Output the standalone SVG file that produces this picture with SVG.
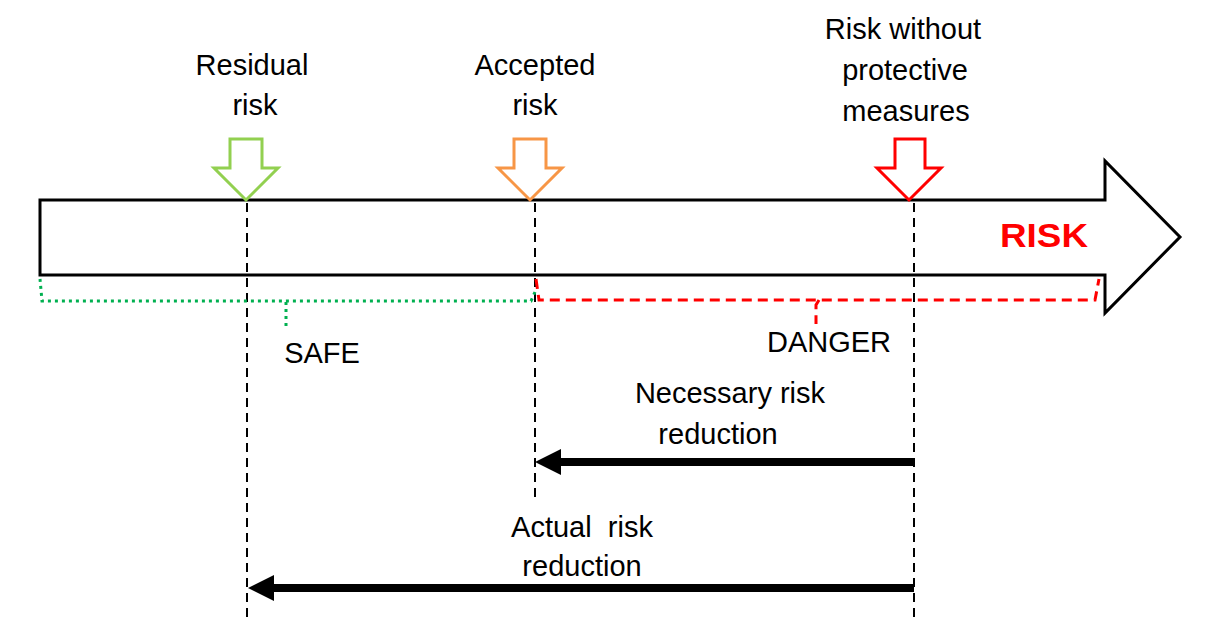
<svg xmlns="http://www.w3.org/2000/svg" width="1207" height="640" viewBox="0 0 1207 640">
<defs>
<style>
.t{font-family:"Liberation Sans",Arial,sans-serif;font-size:29px;fill:#000;text-anchor:middle}
.risk{font-family:"Liberation Sans",Arial,sans-serif;font-size:34px;font-weight:bold;fill:#FF0000}
.vd{fill:none;stroke:#000;stroke-width:2;stroke-dasharray:9 6}
.ind{fill:#fff;stroke-width:3;stroke-linejoin:miter}
.bar{fill:none;stroke:#000;stroke-width:8}
</style>
<marker id="ah" viewBox="0 0 26 26" refX="0" refY="13" markerWidth="26" markerHeight="26" markerUnits="userSpaceOnUse" orient="auto-start-reverse">
<path d="M0,0 L26,13 L0,26 Z" fill="#000"/>
</marker>
</defs>
<rect width="1207" height="640" fill="#fff"/>

<g id="risk-axis">
<path d="M40,200 L1105,200 L1105,161 L1180,237 L1105,313 L1105,275 L40,275 Z" fill="#fff" stroke="#000" stroke-width="3"/>
<text class="risk" x="1044" y="247" text-anchor="middle" textLength="88" lengthAdjust="spacingAndGlyphs">RISK</text>
</g>

<g id="connectors">
<path class="vd" d="M247,203 V622"/>
<path class="vd" d="M535,203 V500"/>
<path class="vd" d="M914,203 V622"/>
<path class="bar" d="M914,462 H561" marker-end="url(#ah)"/>
<path class="bar" d="M914,588 H274" marker-end="url(#ah)"/>
</g>

<g id="residual-risk">
<path class="ind" stroke="#92D050" d="M230,139 H262 V168 H278 L246,200 L214,168 H230 Z"/>
<text class="t" x="252" y="75">Residual</text>
<text class="t" x="255" y="115">risk</text>
</g>

<g id="accepted-risk">
<path class="ind" stroke="#F79646" d="M514,139 H546 V168 H562 L530,200 L498,168 H514 Z"/>
<text class="t" x="535" y="75">Accepted</text>
<text class="t" x="535" y="115">risk</text>
</g>

<g id="risk-without">
<path class="ind" stroke="#FF0000" d="M895,139 H925 V168 H941 L909,200 L877,168 H895 Z"/>
<text class="t" x="903" y="39">Risk without</text>
<text class="t" x="905" y="80">protective</text>
<text class="t" x="906" y="121">measures</text>
</g>

<g id="safe">
<path d="M40,279 L42,301 L531,301 L535,292 M286,302 V329" fill="none" stroke="#00B050" stroke-width="3" stroke-dasharray="3 4"/>
<text class="t" x="322" y="363">SAFE</text>
</g>

<g id="danger">
<path d="M536,279 L539,300 L1095,300 L1099,279 M819,300 L816,305 V324" fill="none" stroke="#FF0000" stroke-width="3" stroke-dasharray="10 6"/>
<text class="t" x="829" y="352">DANGER</text>
</g>

<g id="necessary">
<text class="t" x="730" y="403">Necessary risk</text>
<text class="t" x="718" y="444">reduction</text>
</g>

<g id="actual">
<text class="t" x="582" y="537" style="white-space:pre">Actual  risk</text>
<text class="t" x="582" y="576">reduction</text>
</g>
</svg>
